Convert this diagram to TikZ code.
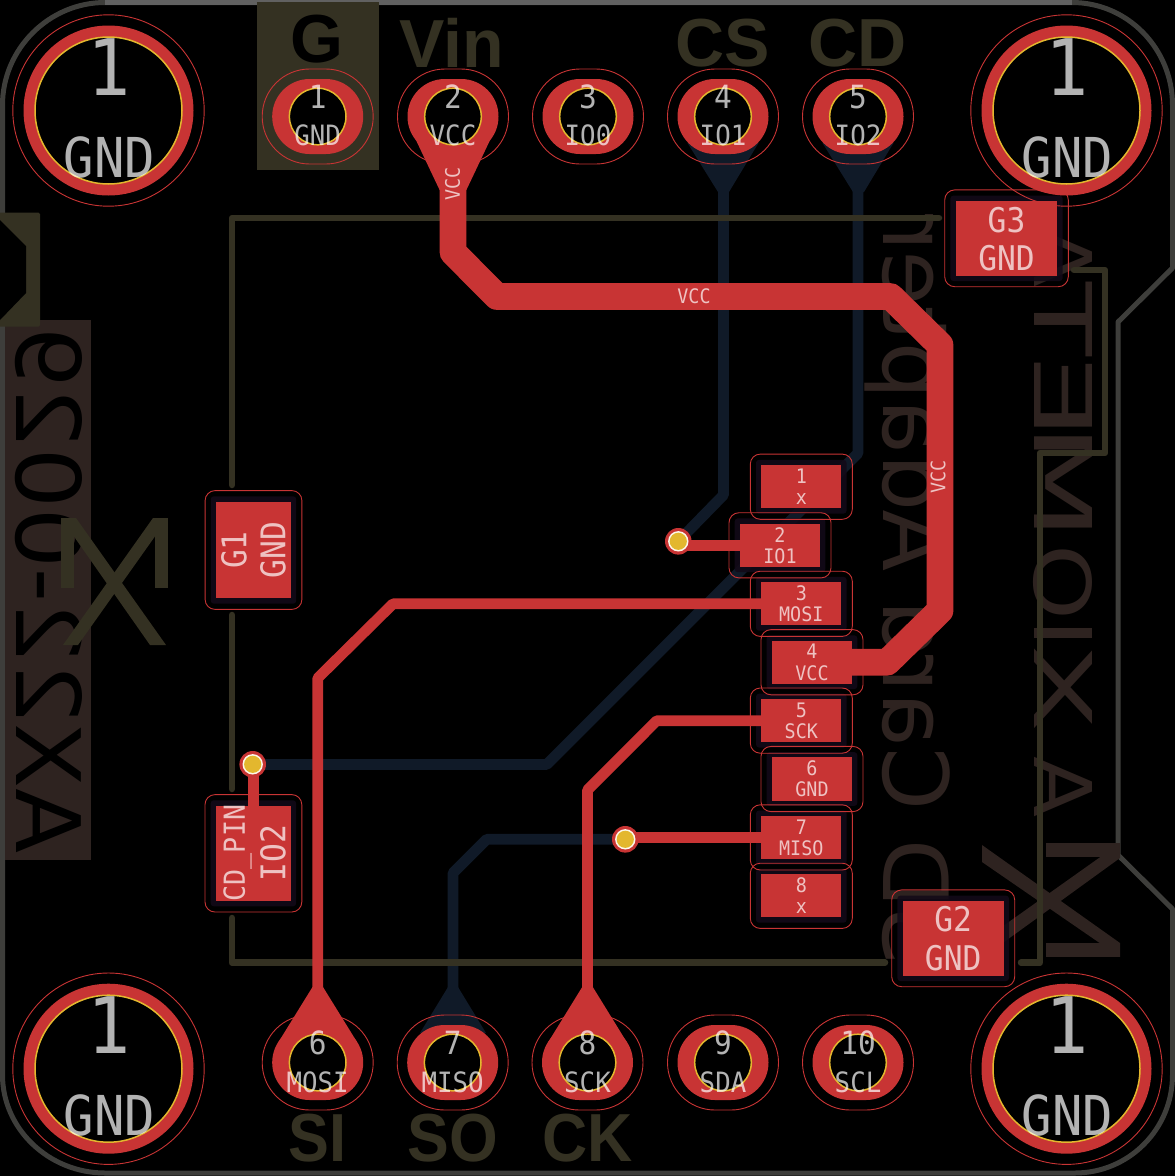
\documentclass[tikz,border=0pt]{standalone}
\usepackage{fontspec}
\usepackage{graphicx}
\usetikzlibrary{calc}
\setmainfont{Liberation Sans}
\newfontfamily\padfam[FakeStretch=0.92]{DejaVu Sans Mono}
\newfontfamily\silkfam{DejaVu Sans}
\newfontfamily\boldfam{Liberation Sans Bold}
\definecolor{cu}{HTML}{C83434}
\definecolor{bcu}{HTML}{101A28}
\definecolor{silkf}{HTML}{343122}
\definecolor{silkb}{HTML}{2E2320}
\definecolor{edgec}{HTML}{3E3E3B}
\definecolor{masky}{HTML}{130A18}
\definecolor{holey}{HTML}{E3B72E}
\newcommand{\fs}[1]{\fontsize{#1}{#1}\selectfont}
\newcommand{\brandch}[2]{\resizebox{#1pt}{58pt}{\silkfam #2}}
\tikzset{
  ftrack/.style={draw=cu,line width=10.7pt,line join=round},
  fpower/.style={draw=cu,line width=26.7pt,line join=round},
  btrack/.style={draw=bcu,line width=10.7pt,line join=round},
  silkline/.style={draw=silkf,line width=6.5pt,line cap=round,line join=round},
  hair/.style={draw=cu,line width=0.9pt},
  lbl/.style={inner sep=0pt,text=white,text opacity=0.7,font=\padfam},
  boldlbl/.style={inner sep=0pt,text=silkf,font=\boldfam\fs{68}},
}
% through-hole oval pad
\newcommand{\thpad}[2]{%
  \begin{scope}[shift={(#1,#2)}]
    \fill[cu,rounded corners=37.4pt] (-45.5,-37.5) rectangle (45.5,37.5);
    \draw[hair,rounded corners=47.4pt] (-55.5,-47.5) rectangle (55.5,47.5);
    \fill[black] (0,0) circle (28.3);
    \draw[holey,line width=1.5pt] (0,0) circle (28.3);
  \end{scope}}
% mounting hole
\newcommand{\mhole}[2]{%
  \begin{scope}[shift={(#1,#2)}]
    \fill[cu] (0,0) circle (85);
    \draw[hair] (0,0) circle (95.7);
    \fill[black] (0,0) circle (73.5);
    \draw[holey,line width=1.5pt] (0,0) circle (73.5);
  \end{scope}}
% surface pad: x y halfwidth halfheight
\newcommand{\smdmask}[4]{%
  \begin{scope}[shift={(#1,#2)}]
    \fill[masky,opacity=0.88,rounded corners=3pt] (-#3-5.3,-#4-5.3) rectangle (#3+5.3,#4+5.3);
  \end{scope}}
\newcommand{\smdpad}[4]{%
  \begin{scope}[shift={(#1,#2)}]
    \fill[cu] (-#3,-#4) rectangle (#3,#4);
    \draw[hair,rounded corners=10pt] (-#3-11,-#4-11) rectangle (#3+11,#4+11);
  \end{scope}}
\newcommand{\via}[3]{%
  \fill[cu] (#2,#3) circle (13.3);
  \fill[white!90!holey] (#2,#3) circle (10.2);
  \fill[holey] (#2,#3) circle (8.6);
  \coordinate (#1) at (#2,#3);}
\begin{document}
\begin{tikzpicture}[x=1pt,y=-1pt]
\useasboundingbox (0,0) rectangle (1175,1176);
\fill[black] (0,0) rectangle (1175,1176);

% board outline
\draw[edgec,line width=5pt,line join=round]
  (2.5,105) .. controls (2.5,49) and (49,2.5) .. (105,2.5) -- (1072,2.5)
  .. controls (1128,2.5) and (1172.5,49) .. (1172.5,105) -- (1172.5,268) -- (1118,322) -- (1118,855)
  -- (1172.5,909) -- (1172.5,1075) .. controls (1172.5,1129) and (1129,1173) .. (1075,1173)
  -- (105,1173) .. controls (49,1173) and (2.5,1129) .. (2.5,1075) -- cycle;
\draw[black!62!white,line width=5pt] (105,2.5) -- (1072,2.5);

% back silk
\fill[silkb] (5,320) rectangle (91,860);
\node[rotate=90,inner sep=0pt,text=black] (partno) at (48.5,590)
  {\scalebox{1}[-1]{\resizebox{526pt}{66pt}{\silkfam AX22-0029}}};
\node[rotate=90,anchor=base,inner sep=0pt,text=silkb] (sdtext) at (883,590)
  {\scalebox{1}[-1]{\silkfam\fs{90}SD Card Adapter}};
\node[rotate=90,inner sep=0pt,text=silkb] (brand) at (1062.5,522)
  {\scalebox{1}[-1]{\brandch{61}{A}\kern24.7pt\brandch{87.5}{X}\kern-3.8pt\brandch{30}{I}\kern-2.4pt\brandch{76}{O}\kern3.2pt\brandch{118}{M}\kern-16.7pt\brandch{86}{E}\kern-2.9pt\brandch{74}{T}\kern-4.5pt\brandch{61}{A}}};
\fill[silkb] (1046,843) rectangle (1120,857);
\fill[silkb] (1046,943) rectangle (1120,957);
\fill[silkb] (982,845) -- (982,862) -- (1120,957) -- (1120,943) -- cycle;
\fill[silkb] (1120,843) -- (1120,858) -- (982,958) -- (982,941) -- cycle;

% back copper
\fill[bcu] (687.5,143) -- (718,192) -- (729,192) -- (758.5,143) -- cycle;
\fill[bcu] (822.5,143) -- (853,192) -- (864,192) -- (893.5,143) -- cycle;
\fill[bcu] (420,1033) -- (448,987) -- (458,987) -- (486,1033) -- cycle;
\draw[btrack] (723.5,185) -- (723.5,495) -- (678.3,541.3);
\draw[btrack] (858,185) -- (858,453.2) -- (546.7,764.5) -- (252.7,764.5);
\draw[btrack] (453,995) -- (453,873) -- (486.7,839.3) -- (625.3,839.3);

% front silk
\fill[silkf] (257,2) rectangle (379,170);
\fill[silkf,rounded corners=1.5pt] (-3,212.7) rectangle (40,326.7);
\fill[black] (-3,220) -- (0,220) -- (26,246) -- (26,293) -- (0,320) -- (-3,320) -- cycle;
\draw[silkline] (232,485) -- (232,218) -- (939,218);
\draw[silkline] (232,615) -- (232,789);
\draw[silkline] (232,918) -- (232,962.7) -- (885,962.7);
\draw[silkline] (1021,962.7) -- (1040,962.7) -- (1040,453) -- (1105,453) -- (1105,270) -- (1074,270);
\fill[silkf] (61,518) rectangle (74,588);
\fill[silkf] (155,518) rectangle (168,588);
\fill[silkf] (61,518) -- (76,518) -- (166,645) -- (150,645) -- cycle;
\fill[silkf] (168,518) -- (153,518) -- (63,645) -- (78,645) -- cycle;
\node[boldlbl,text=black] (lblG) at (317,39) {G};
\node[boldlbl] (lblVin) at (452,43) {Vin};
\node[boldlbl] (lblCS) at (723,43) {CS};
\node[boldlbl] (lblCD) at (858,43) {CD};
\node[boldlbl] (lblSI) at (317.5,1138) {\scalebox{0.9}[1]{SI}};
\node[boldlbl] (lblSO) at (452.5,1138) {\scalebox{0.92}[1]{SO}};
\node[boldlbl] (lblCK) at (588,1138) {\scalebox{0.92}[1]{CK}};

% masks
\smdmask{801.3}{486.7}{40}{21.6}
\smdmask{780}{545.3}{40}{21.6}
\smdmask{801.3}{603.8}{40}{21.6}
\smdmask{812}{662.2}{40}{21.6}
\smdmask{801.3}{720.6}{40}{21.6}
\smdmask{812}{779}{40}{21.6}
\smdmask{801.3}{837.4}{40}{21.6}
\smdmask{801.3}{895.8}{40}{21.6}
\smdmask{1006.5}{238.3}{50.8}{37.4}
\smdmask{953.2}{938.3}{50.5}{37.4}
\smdmask{253.5}{550}{37.4}{48.4}
\smdmask{253.4}{853.3}{37.4}{47.7}

% front copper tracks
\draw[fpower] (453,190) -- (453,252.3) -- (497,296.5) -- (890.6,296.5) -- (940,345) -- (940,610.6) -- (887.3,662.2) -- (850,662.2);
\draw[ftrack] (678.3,545.3) -- (770,545.3);
\draw[ftrack] (770,603.8) -- (393,603.8) -- (317.8,678) -- (317.8,995);
\draw[ftrack] (770,720.7) -- (656.7,720.7) -- (587.5,790) -- (587.5,995);
\draw[ftrack] (625.3,837.4) -- (770,837.4);
\draw[ftrack] (253.7,764.5) -- (253.7,815);
\fill[cu] (414.5,137) -- (439.6,190) -- (466.4,190) -- (491.5,137) -- cycle;
\fill[cu] (312.5,987) -- (278.5,1042) -- (357,1042) -- (323,987) -- cycle;
\fill[cu] (582.2,987) -- (548.3,1042) -- (626.7,1042) -- (592.8,987) -- cycle;

% pads
\mhole{108.5}{110.5}
\mhole{1066.5}{110.5}
\mhole{108.5}{1068.7}
\mhole{1066.5}{1068.7}
\thpad{317.7}{116.5}
\thpad{453}{116.5}
\thpad{588}{116.5}
\thpad{723}{116.5}
\thpad{858}{116.5}
\thpad{317.7}{1062.5}
\thpad{452.7}{1062.5}
\thpad{587.5}{1062.5}
\thpad{723}{1062.5}
\thpad{858}{1062.5}
\smdpad{801.3}{486.7}{40}{21.6}
\smdpad{780}{545.3}{40}{21.6}
\smdpad{801.3}{603.8}{40}{21.6}
\smdpad{812}{662.2}{40}{21.6}
\smdpad{801.3}{720.6}{40}{21.6}
\smdpad{812}{779}{40}{21.6}
\smdpad{801.3}{837.4}{40}{21.6}
\smdpad{801.3}{895.8}{40}{21.6}
\smdpad{1006.5}{238.3}{50.8}{37.4}
\smdpad{953.2}{938.3}{50.5}{37.4}
\smdpad{253.5}{550}{37.4}{48.4}
\smdpad{253.4}{853.3}{37.4}{47.7}

% vias
\via{viaA}{678.3}{541.3}
\via{viaB}{252.7}{764.3}
\via{viaC}{625.3}{839.3}

% labels: mounting holes
\foreach \nm/\hx/\hy in {a/109.5/110.5,b/1067.5/110.5,c/109.5/1068.7,d/1067.5/1068.7}{
  \node[lbl,font=\padfam\fs{78}] (mh\nm n) at (\hx,\hy-43.5) {1};
  \node[lbl,font=\padfam\fs{55}] (mh\nm g) at (\hx,\hy+46.5) {GND};
}
% labels: top row
\foreach \nm/\hx/\num/\net in {t1/317.7/1/GND,t2/453/2/VCC,t3/588/3/IO0,t4/723/4/IO1,t5/858/5/IO2}{
  \node[lbl,font=\padfam\fs{32}] (\nm n) at (\hx,97) {\num};
  \node[lbl,font=\padfam\fs{28}] (\nm g) at (\hx,135) {\net};
}
% labels: bottom row
\foreach \nm/\hx/\num/\net in {b6/317.7/6/MOSI,b7/452.7/7/MISO,b8/587.5/8/SCK,b9/723/9/SDA,b10/858/10/SCL}{
  \node[lbl,font=\padfam\fs{32}] (\nm n) at (\hx,1043) {\num};
  \node[lbl,font=\padfam\fs{28}] (\nm g) at (\hx,1082) {\net};
}
% labels: connector pads
\foreach \nm/\hx/\hy/\num/\net in {c2/780/545.3/2/IO1,c3/801.3/603.8/3/MOSI,c4/812/662.2/4/VCC,c5/801.3/720.6/5/SCK,c6/812/779/6/GND,c7/801.3/837.4/7/MISO}{
  \node[lbl,font=\padfam\fs{20}] (\nm n) at (\hx,\hy-10.7) {\num};
  \node[lbl,font=\padfam\fs{20}] (\nm g) at (\hx,\hy+10.7) {\net};
}
\node[lbl,font=\padfam\fs{20}] (c1n) at (801.3,476) {1};
\node[lbl,font=\padfam\fs{20}] (c1g) at (801.3,499.3) {x};
\node[lbl,font=\padfam\fs{20}] (c8n) at (801.3,885.1) {8};
\node[lbl,font=\padfam\fs{20}] (c8g) at (801.3,908.4) {x};
% labels: ground pads
\node[lbl,font=\padfam\fs{34}] (g3a) at (1006.5,220) {G3};
\node[lbl,font=\padfam\fs{34}] (g3b) at (1006.5,258) {GND};
\node[lbl,font=\padfam\fs{34}] (g2a) at (953.2,919.5) {G2};
\node[lbl,font=\padfam\fs{34}] (g2b) at (953.2,957.7) {GND};
\node[lbl,rotate=90,font=\padfam\fs{34}] (g1a) at (234,550) {G1};
\node[lbl,rotate=90,font=\padfam\fs{34}] (g1b) at (273,550) {GND};
\node[lbl,rotate=90,font=\padfam\fs{29}] (cdp) at (237.5,853) {CD\_PIN};
\node[lbl,rotate=90,font=\padfam\fs{34}] (cdn) at (273,853) {IO2};
% labels: tracks
\node[lbl,font=\padfam\fs{20}] (trA) at (694,296) {VCC};
\node[lbl,rotate=90,font=\padfam\fs{20}] (trB) at (938,477) {VCC};
\node[lbl,rotate=90,font=\padfam\fs{20}] (trC) at (452.5,184) {VCC};
\end{tikzpicture}
\end{document}
